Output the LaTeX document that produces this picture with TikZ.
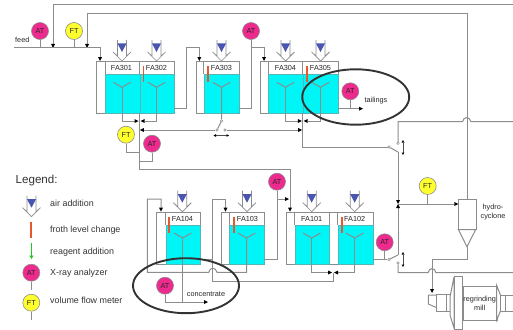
\documentclass[tikz,border=0pt]{standalone}
\usepackage{fontspec}
\setmainfont{Liberation Sans}
\usetikzlibrary{arrows.meta}
\definecolor{pipe}{HTML}{8C8C8C}
\definecolor{tankc}{HTML}{00F6F6}
\definecolor{atc}{HTML}{EE2A8E}
\definecolor{ftc}{HTML}{FFFF2E}
\definecolor{airb}{HTML}{4A55B0}
\definecolor{frothc}{HTML}{E8582E}
\definecolor{greenc}{HTML}{22C822}
\definecolor{ringc}{HTML}{333333}
\tikzset{
 x=1pt,y=-1pt,
 pipeline/.style={draw=pipe,line width=1pt},
 flow/.style={pipeline,-{Triangle[length=4pt,width=4pt,fill=black,line width=0pt]}},
 instr/.style={circle,draw=pipe,line width=0.6pt,minimum size=17pt,inner sep=0pt,font=\fontsize{7.3}{8}\selectfont,text=black!85},
 atnode/.style={instr,fill=atc},
 ftnode/.style={instr,fill=ftc},
 tankbox/.style={rectangle,draw=pipe,line width=1pt,fill=white,anchor=north west,inner sep=0pt},
 cellwater/.style={rectangle,fill=tankc,draw=pipe!60!tankc,line width=0.5pt,anchor=north west,inner sep=0pt},
 label/.style={font=\fontsize{7.3}{9}\selectfont,text=black!85,inner sep=0pt,align=center},
 legendtext/.style={font=\fontsize{8.9}{10}\selectfont,text=black!80,inner sep=0pt,anchor=west},
 contact/.style={circle,draw=pipe,fill=white,line width=0.5pt,minimum size=2.6pt,inner sep=0pt},
 ring/.style={draw=ringc,line width=1.9pt},
 span/.style={draw=black!70,line width=0.6pt,{Triangle[length=2.5pt,width=2.8pt,fill=black,line width=0pt]}-{Triangle[length=2.5pt,width=2.8pt,fill=black,line width=0pt]}},
 airsym/.pic={
  \draw[draw=pipe,line width=0.7pt,fill=white] (-4.5,-21)--(-4.5,-5)--(-9,-9)--(0,0)--(9,-9)--(4.5,-5)--(4.5,-21);
  \fill[airb] (-4.5,-17.5)--(4.5,-17.5)--(0,-9)--cycle;
 },
 yvane/.pic={\draw[pipeline] (-8.7,0)--(0,5)--(8.7,0);},
 frothbar/.style={draw=frothc,line width=1.7pt},
}
\begin{document}
\begin{tikzpicture}
\useasboundingbox (0,0) rectangle (513,329);
% ---- tanks upper
\node[tankbox,minimum width=78pt,minimum height=52pt] (b301) at (96,61) {};
\node[cellwater,minimum width=34.5pt,minimum height=39pt] (w301) at (105,74) {};
\node[cellwater,minimum width=34.5pt,minimum height=39pt] (w302) at (139.5,74) {};
\draw[pipeline] (105,61)--(105,74) (139.5,61)--(139.5,74);
\node[tankbox,minimum width=43pt,minimum height=52pt] (b303) at (195.5,61) {};
\node[cellwater,minimum width=35pt,minimum height=39pt] (w303) at (203.5,74) {};
\draw[pipeline] (203.5,61)--(203.5,74);
\node[tankbox,minimum width=78pt,minimum height=52pt] (b304) at (260,61) {};
\node[cellwater,minimum width=34.5pt,minimum height=39pt] (w304) at (268,74) {};
\node[cellwater,minimum width=35pt,minimum height=39pt] (w305) at (302.5,74) {};
\draw[pipeline] (268,61)--(268,74) (302.5,61)--(302.5,74);
% ---- tanks lower
\node[tankbox,minimum width=43.5pt,minimum height=52pt] (b104) at (156,211.7) {};
\node[cellwater,minimum width=34pt,minimum height=38.4pt] (w104) at (165.5,225.3) {};
\draw[pipeline] (165.5,211.7)--(165.5,225.3);
\node[tankbox,minimum width=43.6pt,minimum height=52pt] (b103) at (220.7,211.7) {};
\node[cellwater,minimum width=35pt,minimum height=38.4pt] (w103) at (229.3,225.3) {};
\draw[pipeline] (229.3,211.7)--(229.3,225.3);
\node[tankbox,minimum width=87pt,minimum height=52pt] (b101) at (285.7,211.7) {};
\node[cellwater,minimum width=34.5pt,minimum height=38.4pt] (w101) at (294.5,225.3) {};
\node[cellwater,minimum width=35.2pt,minimum height=38.4pt] (w102) at (337.5,225.3) {};
\draw[pipeline] (294.5,211.7)--(294.5,225.3) (329,211.7)--(329,225.3) (337.5,211.7)--(337.5,225.3);
% ---- tank labels
\foreach \n/\t/\x/\y in {l301/FA301/121.5/67.5,l302/FA302/156.5/67.5,l303/FA303/221.5/67.5,l304/FA304/285.5/67.5,l305/FA305/320.5/67.5,l104/FA104/182.5/218.5,l103/FA103/247.5/218.5,l101/FA101/311.7/218.5,l102/FA102/354.7/218.5}
  \node[label] (\n) at (\x,\y) {\t};
% ---- air symbols
\foreach \x in {122,156.5,221.5,285.5,320.5} \pic at (\x,61) {airsym};
\foreach \x in {182.3,247,311.7,354.7} \pic at (\x,211.7) {airsym};
% ---- instruments
\node[atnode] (at1) at (40,31) {AT};
\node[ftnode] (ft1) at (74,31) {FT};
\node[atnode] (at2) at (251,31) {AT};
\node[atnode] (at3) at (350.3,91.3) {AT};
\node[ftnode] (ft2) at (126,134.7) {FT};
\node[atnode] (at4) at (152,143.7) {AT};
\node[atnode] (at5) at (277,181.7) {AT};
\node[ftnode] (ft3) at (427.7,186) {FT};
\node[atnode] (at6) at (384.7,242.3) {AT};
\node[atnode] (at7) at (165,285.7) {AT};
% ---- junction coordinates
\coordinate (feedL) at (14,48);
\coordinate (feedC) at (100,48);
\coordinate (t1R) at (513,5);
\coordinate (t1L) at (53,5);
\coordinate (t1E) at (53,48);
\coordinate (t2C) at (467,13.5);
\coordinate (t2L) at (87,13.5);
\coordinate (t2E) at (87,48);
\coordinate (cycTop) at (467,199);
\coordinate (h3) at (333,272.5);
% ---- pipes
\draw[flow] (t1R)--(t1L)--(t1E);
\draw[flow] (t2C)--(t2L)--(t2E);
\draw[pipeline] (t2C)--(cycTop);
\draw[flow] (feedL)--(feedC)--(100,61);
\draw[pipeline] (at1)--(40,48);
\draw[pipeline] (ft1)--(74,48);
\draw[flow] (174,108.5)--(186,108.5)--(186,48)--(199.3,48)--(199.3,61);
\draw[pipeline] (238.5,108.5)--(251,108.5)--(at2);
\draw[flow] (251,48)--(264,48)--(264,61);
\draw[flow] (338,108.7)--(363,108.7);
\draw[pipeline] (at3)--(350.3,108.7);
% Y stems & froth launder
\foreach \x/\tx in {122/138.5,285.5/301.8,156.5/140.5,320.5/303.5}
  \draw[flow] (\x,87)--(\x,121)--(\tx,121);
\foreach \x in {122,156.5,221.5,285.5,320.5} \pic at (\x,82.3) {yvane};
\foreach \x in {182.7,246.7,311.7,354.7} \pic at (\x,233) {yvane};
% ---- froth bars
\foreach \x in {143.5,208,307.3} \draw[frothbar] (\x,66)--(\x,82);
\foreach \x in {169,233.7,341.7} \draw[frothbar] (\x,217)--(\x,233);
\draw[pipeline] (139.5,113)--(139.5,169)--(290,169);
\draw[flow] (290,169)--(290,211.7);
\draw[pipeline] (ft2)--(126,152)--(139.5,152);
\draw[pipeline] (at4)--(152,161)--(139.5,161);
\draw[pipeline] (302.5,113)--(302.5,147)--(389,147);
% switch 1
\node[contact] (s1a) at (221.5,121) {};
\node[contact] (s1b) at (217,130) {};
\node[contact] (s1c) at (225,130) {};
\draw[pipeline] (221.5,87)--(s1a)--(s1b);
\draw[flow] (s1b)--(139.8,130);
\draw[flow] (s1c)--(302.2,130);
\draw[span] (213.5,135.5)--(229,135.5);
% switch 2
\node[contact] (s2a) at (398,143.3) {};
\node[contact] (s2b) at (389,147) {};
\draw[pipeline] (513,121.7)--(471,121.7) .. controls (469.5,116.3) and (463.5,116.3) .. (462.5,121.7)--(398,121.7)--(s2a);
\draw[pipeline] (s2b)--(398,152);
\draw[flow] (398,152)--(398,204);
\draw[span] (403,140)--(403,155);
% cyclone feed
\draw[flow] (398,255)--(398,204);
\draw[flow] (398,204)--(458.3,204);
\draw[pipeline] (ft3)--(427.7,204);
% switch 3
\node[contact] (s3a) at (389,259.5) {};
\node[contact] (s3b) at (398,263) {};
\draw[pipeline] (s3a)--(398,255);
\draw[pipeline] (372.7,259.5)--(s3a);
\draw[pipeline] (at6)--(384.7,259.5);
\draw[span] (403,252)--(403,267);
\draw[pipeline] (s3b)--(398,272.7)--(428,272.7) .. controls (429,267.3) and (435,267.3) .. (436,272.7)--(513,272.7);
% lower circuit
\draw[pipeline] (182.7,237.7)--(182.7,302);
\draw[pipeline] (at7)--(165,302)--(182.7,302);
\draw[flow] (182.7,302)--(208,302);
\draw[flow] (246.7,238)--(246.7,272.3)--(217,272.3) .. controls (216,266.9) and (209.5,266.9) .. (208.7,272.3)--(147.3,272.3)--(147.3,199)--(161,199)--(161,211.7);
\draw[pipeline] (199.5,259)--(212.7,259);
\draw[pipeline] (212.7,199)--(212.7,281)--(333,281)--(h3);
\draw[flow] (212.7,199)--(225.5,199)--(225.5,211.7);
\draw[pipeline] (264.3,259)--(277,259)--(at5);
\draw[flow] (277,199)--(289,199);
\draw[flow] (311.7,238)--(311.7,272.5)--(332.2,272.5);
\draw[flow] (354.7,238)--(354.7,272.5)--(334,272.5);
% cyclone
\node[tankbox,minimum width=17.4pt,minimum height=30pt] (cyc) at (458.3,199) {};
\draw[pipeline,fill=white] (458.3,229.5)--(475.7,229.5)--(467,246.7)--cycle;
\draw[flow] (467,246.7)--(467,259)--(432,259)--(432,293);
\node[label,font=\fontsize{7.3}{9.2}\selectfont] (hc) at (493,211.8) {hydro-\\cyclone};
% mill
\draw[pipeline,fill=white] (428.3,295)--(428.3,304)--(436.7,307.7)--(436.7,295)--cycle;
\draw[pipeline,fill=white] (436.7,294.3) rectangle (450,311.7);
\draw[pipeline] (446,294.3)--(446,311.7);
\draw[pipeline,fill=white] (450,297)--(454,277)--(454,328)--(450,315)--cycle;
\draw[pipeline,fill=white] (454,276.7) rectangle (462.7,329);
\node[tankbox,minimum width=34pt,minimum height=34.3pt] (mill) at (462.7,285.7) {};
\draw[pipeline,fill=white] (496.7,285.7)--(500.7,295.5)--(500.7,310.5)--(496.7,320)--cycle;
\draw[pipeline,fill=white] (500.7,295)--(514,295)--(514,311)--(500.7,311)--cycle;
\draw[pipeline] (505,295)--(505,311);
\node[label] (millt) at (479.7,303) {regrinding\\mill};
% texts
\node[label] (feedt) at (22.3,40) {feed};
\node[label] (tailt) at (376,100.5) {tailings};
\node[label] (conct) at (206,294.5) {concentrate};
% legend
\node[inner sep=0pt,anchor=west,font=\fontsize{11.6}{13}\selectfont,text=black!80] (lg) at (15.5,180) {Legend:};
\pic at (31.5,216.7) {airsym};
\draw[frothbar] (31.3,221.7)--(31.3,237.7);
\draw[greenc,line width=1.4pt,-{Triangle[length=3.5pt,width=4pt]}] (31.5,242.5)--(31.5,259);
\node[atnode] (lat) at (31.3,272.7) {AT};
\draw[pipeline] (lat)--(31.3,290);
\node[ftnode] (lft) at (31.3,302.7) {FT};
\draw[pipeline] (lft)--(31.3,320);
\node[legendtext] (la) at (50,203.3) {air addition};
\node[legendtext] (lb) at (50,230) {froth level change};
\node[legendtext] (lc) at (50,252) {reagent addition};
\node[legendtext] (ld) at (50,272.7) {X-ray analyzer};
\node[legendtext] (le) at (50,300) {volume flow meter};
% rings
\draw[ring] (355.7,97) ellipse [x radius=53.5,y radius=27.7];
\draw[ring] (186,285.7) ellipse [x radius=53,y radius=27.5];
\end{tikzpicture}
\end{document}
